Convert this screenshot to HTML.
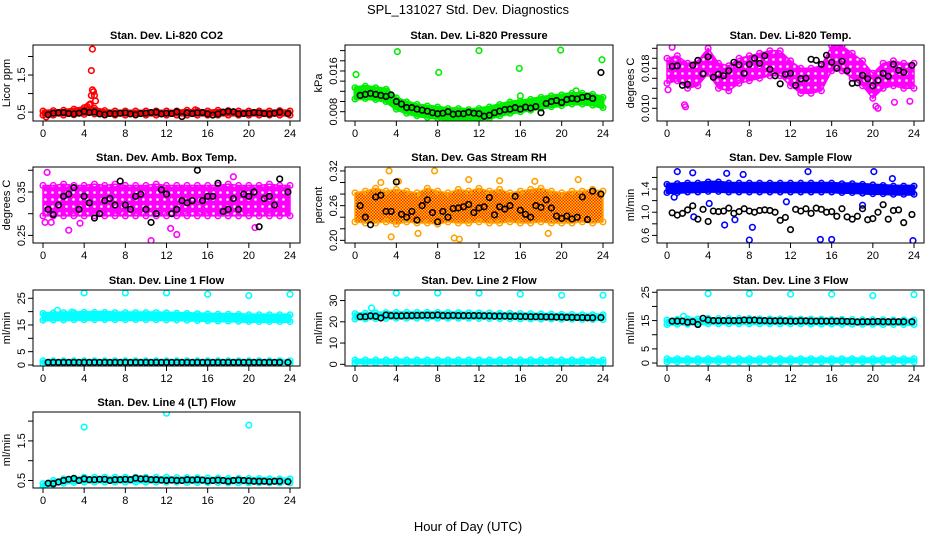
<!DOCTYPE html>
<html><head><meta charset="utf-8">
<style>
html,body{margin:0;padding:0;background:#fff;}
svg{display:block;font-family:"Liberation Sans",sans-serif;}
</style></head>
<body>
<svg id="chart" width="936" height="540" viewBox="0 0 936 540" xmlns="http://www.w3.org/2000/svg">
<defs>
<pattern id="rhpat" width="3" height="3" patternUnits="userSpaceOnUse">
<rect width="3" height="3" fill="#ffd000"/><rect width="1.5" height="1.5" fill="#ff2000"/><rect x="1.5" y="1.5" width="1.5" height="1.5" fill="#ff2000"/>
</pattern>
<pattern id="magpat" width="7" height="7" patternUnits="userSpaceOnUse">
<rect width="7" height="7" fill="#ff00ff"/><circle cx="3.5" cy="3.5" r="1.3" fill="#fff"/>
</pattern>
</defs>
<text x="468" y="14" font-size="13" text-anchor="middle">SPL_131027  Std. Dev. Diagnostics</text>
<text x="468" y="531" font-size="13" text-anchor="middle">Hour of Day (UTC)</text>
</svg>
<script>
// ---- shared data ----
const xTicks = [0,4,8,12,16,20,24];
const bandHours = [0,1,2,3,4,5,6,7,8,9,10,11,12,13,14,15,16,17,18,19,20,21,22,23,24];
const blackHours = [0.5,1,1.5,2,2.5,3,3.5,4,4.5,5,5.5,6,6.5,7,7.5,8,8.5,9,9.5,10,10.5,11,11.5,12,12.5,13,13.5,14,14.5,15,15.5,16,16.5,17,17.5,18,18.5,19,19.5,20,20.5,21,21.5,22,22.5,23,23.8];

// P1 CO2
const co2Lo = [0.42,0.42,0.42,0.43,0.44,0.45,0.42,0.42,0.42,0.42,0.42,0.42,0.42,0.42,0.42,0.42,0.42,0.42,0.42,0.42,0.42,0.42,0.42,0.42,0.42];
const co2Hi = [0.53,0.54,0.55,0.58,0.62,0.60,0.54,0.53,0.53,0.53,0.53,0.53,0.53,0.53,0.55,0.54,0.53,0.55,0.54,0.53,0.53,0.53,0.53,0.54,0.53];
const co2OutT = [4.8,4.7,4.8,4.9,4.7,5.0,5.1,4.5,4.3,4.6,14.8,0.3];
const co2OutV = [2.2,1.62,1.1,1.05,0.95,0.95,0.8,0.7,0.65,0.72,0.56,0.37];
const co2Black = [0.43,0.47,0.48,0.49,0.46,0.45,0.47,0.52,0.49,0.50,0.45,0.43,0.46,0.45,0.47,0.48,0.45,0.43,0.46,0.47,0.49,0.50,0.45,0.47,0.46,0.51,0.38,0.48,0.46,0.48,0.49,0.45,0.42,0.45,0.50,0.52,0.51,0.45,0.46,0.47,0.49,0.48,0.46,0.45,0.47,0.50,0.46];

// P2 Pressure
const presLo = [0.0105,0.0106,0.0104,0.0100,0.0085,0.0077,0.0072,0.0069,0.0067,0.0064,0.0064,0.0063,0.0065,0.0067,0.0072,0.0077,0.0080,0.0083,0.0087,0.0090,0.0092,0.0095,0.0095,0.0093,0.0088];
const presHi = [0.0127,0.0130,0.0127,0.0124,0.0107,0.0099,0.0094,0.0091,0.0089,0.0086,0.0086,0.0084,0.0086,0.0089,0.0094,0.0099,0.0101,0.0104,0.0108,0.0111,0.0113,0.0116,0.0116,0.0114,0.0108];
const presOutT = [0.1,4.1,8.1,12,15.9,19.9,23.9,21.4,16,3.1];
const presOutV = [0.0153,0.0198,0.0157,0.0200,0.0165,0.0201,0.0182,0.0121,0.0111,0.0120];
const presBlack = [0.0112,0.0114,0.0116,0.0114,0.0112,0.0110,0.0113,0.0100,0.0095,0.0088,0.0088,0.0085,0.0083,0.0081,0.0078,0.0076,0.0077,0.0080,0.0075,0.0076,0.0076,0.0079,0.0077,0.0076,0.0071,0.0073,0.0078,0.0081,0.0084,0.0085,0.0088,0.0085,0.0089,0.0087,0.0090,0.0078,0.0096,0.0100,0.0102,0.0098,0.0104,0.0106,0.0105,0.0108,0.0110,0.0106,0.0157];

// P3 Li-820 Temp
const tempLo = [0.0150,0.0155,0.0140,0.0145,0.0170,0.0140,0.0135,0.0150,0.0155,0.0160,0.0165,0.0165,0.0145,0.0130,0.0130,0.0135,0.0175,0.0175,0.0160,0.0145,0.0120,0.0140,0.0145,0.0140,0.0140];
const tempHi = [0.0200,0.0205,0.0190,0.0195,0.0220,0.0190,0.0185,0.0200,0.0205,0.0210,0.0215,0.0215,0.0195,0.0180,0.0180,0.0185,0.0225,0.0225,0.0210,0.0195,0.0170,0.0190,0.0195,0.0190,0.0190];
const tempOutT = [0.5,1.7,1.8,20.3,20.5,22.1,0.1,23.6];
const tempOutV = [0.0222,0.0107,0.0103,0.0104,0.0100,0.0112,0.0137,0.0114];
const tempBlack = [0.0184,0.0185,0.0146,0.0148,0.0186,0.0196,0.0169,0.0203,0.0162,0.0168,0.0165,0.0175,0.0192,0.0187,0.0170,0.0188,0.0200,0.0190,0.0205,0.0178,0.0165,0.0149,0.0168,0.0170,0.0146,0.0159,0.0160,0.0198,0.0196,0.0188,0.0206,0.0192,0.0180,0.0194,0.0175,0.0150,0.0151,0.0166,0.0159,0.0145,0.0156,0.0170,0.0164,0.0188,0.0176,0.0172,0.0186];

// P4 Amb Box Temp
const ambLo = [0.295,0.295,0.295,0.295,0.295,0.295,0.295,0.295,0.295,0.295,0.295,0.295,0.295,0.295,0.295,0.295,0.295,0.295,0.295,0.295,0.295,0.295,0.295,0.295,0.295];
const ambHi = [0.365,0.365,0.368,0.365,0.365,0.368,0.365,0.368,0.365,0.365,0.365,0.368,0.365,0.365,0.365,0.365,0.365,0.365,0.368,0.365,0.365,0.365,0.368,0.365,0.365];
const ambOutT = [0.4,0.8,2.5,10.5,12.4,13.0,20.6,3.6,18.5,0.2];
const ambOutV = [0.395,0.28,0.262,0.238,0.266,0.252,0.268,0.278,0.385,0.28];
const ambBlack = [0.310,0.298,0.320,0.340,0.345,0.360,0.310,0.340,0.325,0.290,0.300,0.330,0.335,0.320,0.375,0.320,0.310,0.340,0.345,0.310,0.280,0.300,0.355,0.345,0.300,0.310,0.330,0.325,0.330,0.400,0.330,0.340,0.340,0.370,0.305,0.310,0.335,0.310,0.345,0.340,0.350,0.270,0.335,0.340,0.320,0.380,0.350];

// P5 Gas Stream RH
const rhLo = [0.232,0.230,0.230,0.232,0.228,0.232,0.230,0.230,0.228,0.232,0.230,0.230,0.232,0.230,0.230,0.232,0.230,0.230,0.232,0.230,0.230,0.230,0.232,0.230,0.232];
const rhHi = [0.282,0.285,0.290,0.285,0.288,0.285,0.282,0.290,0.285,0.282,0.288,0.285,0.290,0.285,0.288,0.282,0.285,0.288,0.290,0.285,0.282,0.285,0.285,0.288,0.285];
const rhOutT = [3.3,7.7,3.5,11.0,9.6,10.1,4.2,17.4,18.7,21.6,14.0,6.1,2.5];
const rhOutV = [0.320,0.320,0.206,0.305,0.204,0.202,0.302,0.302,0.212,0.305,0.303,0.212,0.300];
const rhBlack = [0.260,0.240,0.227,0.275,0.278,0.250,0.250,0.301,0.245,0.240,0.250,0.235,0.260,0.270,0.248,0.232,0.250,0.240,0.255,0.256,0.258,0.262,0.248,0.256,0.258,0.274,0.244,0.258,0.254,0.260,0.276,0.252,0.245,0.240,0.260,0.257,0.270,0.256,0.242,0.238,0.242,0.237,0.240,0.275,0.236,0.285,0.280];

// P6 Sample Flow
const flowLo = [1.34,1.34,1.35,1.35,1.36,1.36,1.35,1.35,1.35,1.35,1.35,1.35,1.35,1.35,1.35,1.35,1.35,1.34,1.34,1.33,1.32,1.32,1.31,1.31,1.31];
const flowHi = [1.48,1.49,1.50,1.50,1.52,1.52,1.50,1.50,1.50,1.50,1.50,1.50,1.50,1.50,1.50,1.50,1.50,1.49,1.49,1.48,1.47,1.46,1.45,1.45,1.45];
const flowOutT = [1.0,2.5,5.8,7.4,8.0,8.3,13.7,14.9,16.0,20.1,23.9,0.7,4.1,5.6,2.6,6.6,19.0,11.6,21.9];
const flowOutV = [1.70,1.68,1.67,1.65,0.52,0.74,1.70,0.53,0.53,1.70,0.51,1.26,1.15,0.78,0.92,0.87,1.12,1.18,1.58];
const flowBlack = [0.99,0.95,0.98,1.04,1.11,0.88,1.05,0.84,1.02,1.01,1.02,1.07,0.98,1.01,1.06,1.02,1.00,1.03,1.04,1.03,1.00,0.86,0.91,0.70,1.05,1.02,1.06,0.98,1.07,1.05,1.00,1.01,0.93,1.06,0.92,0.88,0.93,1.06,0.87,0.89,1.00,1.13,0.88,1.03,1.04,0.82,0.96];

// P7 Line 1 Flow
const l1Lo = [16.8,16.9,16.9,17.0,17.0,17.0,17.0,17.0,17.0,17.0,17.0,17.0,16.9,16.9,16.8,16.7,16.6,16.5,16.5,16.4,16.3,16.3,16.3,16.3,16.3];
const l1Hi = [19.3,19.5,19.6,19.6,19.7,19.7,19.7,19.6,19.6,19.6,19.6,19.6,19.5,19.4,19.3,19.2,19.1,19.0,19.0,18.9,18.8,18.8,18.8,18.8,18.8];
const l1LowLo = [0.5,0.5,0.5,0.5,0.5,0.5,0.5,0.5,0.5,0.5,0.5,0.5,0.5,0.5,0.5,0.5,0.5,0.5,0.5,0.5,0.5,0.5,0.5,0.5,0.5];
const l1LowHi = [1.6,1.6,1.6,1.6,1.6,1.6,1.6,1.6,1.6,1.6,1.6,1.6,1.6,1.6,1.6,1.6,1.6,1.6,1.6,1.6,1.6,1.6,1.6,1.6,1.6];
const l1OutT = [4,8,12,16,20,24,1.4,2.8];
const l1OutV = [27,27,27,26.5,26,26.5,20.5,19.8];
const l1Black = [1.0,1.0,1.0,1.0,1.0,1.0,1.0,1.0,1.0,1.0,1.0,1.0,1.0,1.0,1.0,1.0,1.0,1.0,1.0,1.0,1.0,1.0,1.0,1.0,1.0,1.0,1.0,1.0,1.0,1.0,1.0,1.0,1.0,1.0,1.0,1.0,1.0,1.0,1.0,1.0,1.0,1.0,1.0,1.0,1.0,1.0,1.0];

// P8 Line 2 Flow
const l2Lo = [21.3,21.4,21.5,21.6,21.7,21.7,21.7,21.7,21.7,21.7,21.7,21.7,21.6,21.6,21.5,21.5,21.4,21.4,21.3,21.3,21.2,21.2,21.1,21.1,21.1];
const l2Hi = [23.8,24.0,24.2,24.3,24.4,24.4,24.4,24.4,24.4,24.3,24.3,24.2,24.2,24.1,24.0,24.0,23.9,23.8,23.7,23.6,23.5,23.4,23.3,23.3,23.3];
const l2LowLo = [0.6,0.6,0.6,0.6,0.6,0.6,0.6,0.6,0.6,0.6,0.6,0.6,0.6,0.6,0.6,0.6,0.6,0.6,0.6,0.6,0.6,0.6,0.6,0.6,0.6];
const l2LowHi = [2.0,2.0,2.0,2.0,2.0,2.0,2.0,2.0,2.0,2.0,2.0,2.0,2.0,2.0,2.0,2.0,2.0,2.0,2.0,2.0,2.0,2.0,2.0,2.0,2.0];
const l2OutT = [4,8,12,16,20,24,1.6];
const l2OutV = [33.5,33.5,33.5,33,32.5,32.5,26.5];
const l2Black = [22.4,22.4,22.8,22.6,21.8,23.2,22.9,22.8,22.8,22.9,22.9,23.0,23.0,23.1,23.0,23.2,22.9,22.9,23.0,22.9,22.9,22.9,22.9,22.9,22.8,22.8,22.7,22.7,22.7,22.6,22.6,22.5,22.5,22.4,22.4,22.4,22.3,22.3,22.2,22.2,22.1,22.1,22.0,22.0,21.9,21.9,22.0];

// P9 Line 3 Flow
const l3Lo = [13.6,13.7,13.8,13.8,13.9,13.9,13.9,13.9,13.9,13.9,13.9,13.9,13.9,13.9,13.8,13.8,13.8,13.7,13.7,13.7,13.7,13.6,13.6,13.6,13.6];
const l3Hi = [15.2,15.4,15.6,15.6,15.7,15.7,15.7,15.7,15.7,15.6,15.6,15.6,15.6,15.5,15.5,15.5,15.4,15.4,15.4,15.3,15.3,15.3,15.2,15.2,15.2];
const l3LowLo = [0.4,0.4,0.4,0.4,0.4,0.4,0.4,0.4,0.4,0.4,0.4,0.4,0.4,0.4,0.4,0.4,0.4,0.4,0.4,0.4,0.4,0.4,0.4,0.4,0.4];
const l3LowHi = [1.5,1.5,1.5,1.5,1.5,1.5,1.5,1.5,1.5,1.5,1.5,1.5,1.5,1.5,1.5,1.5,1.5,1.5,1.5,1.5,1.5,1.5,1.5,1.5,1.5];
const l3OutT = [4,8,12,16,20,24,1.6];
const l3OutV = [24.5,24.5,24.3,24.3,23.8,24.2,16.5];
const l3Black = [14.8,14.8,14.8,14.4,14.6,13.6,15.8,15.2,15.0,15.0,15.0,15.0,15.0,15.0,15.2,15.1,15.2,15.0,15.0,14.9,14.9,14.9,14.9,14.8,14.8,14.9,14.9,14.8,14.8,14.8,14.8,14.8,14.8,14.8,14.7,14.7,14.5,14.6,14.6,14.6,14.7,14.6,14.6,14.6,14.6,14.6,14.6];

// P10 Line 4 (LT) Flow
const l4Lo = [0.33,0.40,0.43,0.45,0.46,0.46,0.46,0.46,0.46,0.46,0.46,0.46,0.46,0.46,0.45,0.45,0.45,0.45,0.44,0.44,0.44,0.44,0.44,0.44,0.44];
const l4Hi = [0.42,0.50,0.54,0.56,0.58,0.58,0.58,0.58,0.58,0.58,0.58,0.58,0.58,0.57,0.57,0.57,0.56,0.56,0.55,0.55,0.55,0.55,0.54,0.54,0.54];
const l4OutT = [4,12,20];
const l4OutV = [1.85,2.2,1.9];
const l4Black = [0.43,0.42,0.46,0.50,0.53,0.55,0.50,0.54,0.52,0.52,0.53,0.53,0.50,0.52,0.52,0.53,0.52,0.56,0.54,0.54,0.52,0.52,0.51,0.50,0.51,0.50,0.50,0.52,0.51,0.52,0.51,0.49,0.50,0.51,0.50,0.48,0.50,0.51,0.50,0.49,0.48,0.48,0.48,0.47,0.48,0.48,0.47];

// y tick values & labels
const co2Ticks=[0.5,1,1.5,2], co2TickLabels=["0.5","","1.5",""];
const presTicks=[0.008,0.010,0.012,0.014,0.016,0.018,0.020], presTickLabels=["0.008","","","","0.016","",""];
const tempTicks=[0.010,0.012,0.014,0.016,0.018,0.020,0.022], tempTickLabels=["0.010","","","","0.018","",""];
const ambTicks=[0.25,0.30,0.35,0.40], ambTickLabels=["0.25","","0.35",""];
const rhTicks=[0.20,0.22,0.24,0.26,0.28,0.30,0.32], rhTickLabels=["0.20","","","0.26","","","0.32"];
const flowTicks=[0.6,0.8,1.0,1.2,1.4,1.6], flowTickLabels=["0.6","","1.0","","1.4",""];
const l1Ticks=[0,5,10,15,20,25], l1TickLabels=["0","5","","15","","25"];
const l2Ticks=[0,10,20,30], l2TickLabels=["0","10","20","30"];
const l3Ticks=[0,5,10,15,20,25], l3TickLabels=["0","5","","15","","25"];
const l4Ticks=[0.5,1,1.5,2], l4TickLabels=["0.5","","1.5",""];

// ---- layout (not data) ----
const colX0=[43,355,667], colX24=[290,603,914], rowTop=[45,167,290,412];
const panels=[
 {name:'co2',title:'Stan. Dev. Li-820 CO2',ylab:'Licor ppm',col:0,row:0,ylim:[0.26,2.31],color:'#ff0000',bands:[[co2Lo,co2Hi]],outT:co2OutT,outV:co2OutV,black:co2Black,ticks:co2Ticks,tl:co2TickLabels},
 {name:'pressure',title:'Stan. Dev. Li-820 Pressure',ylab:'kPa',col:1,row:0,ylim:[0.00617,0.0211],color:'#00ee00',bands:[[presLo,presHi]],outT:presOutT,outV:presOutV,black:presBlack,ticks:presTicks,tl:presTickLabels},
 {name:'li820-temp',title:'Stan. Dev. Li-820 Temp.',ylab:'degrees C',col:2,row:0,ylim:[0.00746,0.02266],color:'#ff00ff',fill:'url(#magpat)',sw:1.5,bands:[[tempLo,tempHi]],outT:tempOutT,outV:tempOutV,black:tempBlack,ticks:tempTicks,tl:tempTickLabels},
 {name:'amb-box-temp',title:'Stan. Dev. Amb. Box Temp.',ylab:'degrees C',col:0,row:1,ylim:[0.2325,0.4075],color:'#ff00ff',fill:'url(#magpat)',sw:1.5,bands:[[ambLo,ambHi]],outT:ambOutT,outV:ambOutV,black:ambBlack,ticks:ambTicks,tl:ambTickLabels},
 {name:'gas-stream-rh',title:'Stan. Dev. Gas Stream RH',ylab:'percent',col:1,row:1,ylim:[0.1954,0.3268],color:'#ffa000',fill:'url(#rhpat)',sw:1.5,bands:[[rhLo,rhHi]],outT:rhOutT,outV:rhOutV,black:rhBlack,ticks:rhTicks,tl:rhTickLabels},
 {name:'sample-flow',title:'Stan. Dev. Sample Flow',ylab:'ml/min',col:2,row:1,ylim:[0.469,1.78],color:'#0000ff',bands:[[flowLo,flowHi]],outT:flowOutT,outV:flowOutV,black:flowBlack,ticks:flowTicks,tl:flowTickLabels},
 {name:'line1-flow',title:'Stan. Dev. Line 1 Flow',ylab:'ml/min',col:0,row:2,ylim:[-0.37,28.1],color:'#00ffff',bands:[[l1Lo,l1Hi],[l1LowLo,l1LowHi]],outT:l1OutT,outV:l1OutV,black:l1Black,ticks:l1Ticks,tl:l1TickLabels},
 {name:'line2-flow',title:'Stan. Dev. Line 2 Flow',ylab:'ml/min',col:1,row:2,ylim:[-0.8,34.97],color:'#00ffff',bands:[[l2Lo,l2Hi],[l2LowLo,l2LowHi]],outT:l2OutT,outV:l2OutV,black:l2Black,ticks:l2Ticks,tl:l2TickLabels},
 {name:'line3-flow',title:'Stan. Dev. Line 3 Flow',ylab:'ml/min',col:2,row:2,ylim:[-1.05,25.8],color:'#00ffff',bands:[[l3Lo,l3Hi],[l3LowLo,l3LowHi]],outT:l3OutT,outV:l3OutV,black:l3Black,ticks:l3Ticks,tl:l3TickLabels},
 {name:'line4-flow',title:'Stan. Dev. Line 4 (LT) Flow',ylab:'ml/min',col:0,row:3,ylim:[0.31,2.23],color:'#00ffff',bands:[[l4Lo,l4Hi]],outT:l4OutT,outV:l4OutV,black:l4Black,ticks:l4Ticks,tl:l4TickLabels}
];

const NS='http://www.w3.org/2000/svg';
const svg=document.getElementById('chart');
function mk(tag,attrs,parent){const e=document.createElementNS(NS,tag);for(const k in attrs)e.setAttribute(k,attrs[k]);parent.appendChild(e);return e;}

panels.forEach(p=>{
  const x0=colX0[p.col], x24=colX24[p.col];
  const top=rowTop[p.row], H=76, bottom=top+H;
  const left=x0-10, right=x24+10;
  const xs=t=>x0+(t/24)*(x24-x0);
  const ys=v=>bottom-(v-p.ylim[0])/(p.ylim[1]-p.ylim[0])*H;
  const g=mk('g',{},svg);
  
  
  const clip=mk('clipPath',{id:'clip-'+p.name},g);
  mk('rect',{x:left,y:top,width:right-left,height:H},clip);
  const plot=mk('g',{'clip-path':'url(#clip-'+p.name+')'},g);
  
  
  p.bands.forEach((b,bi)=>{
    const lo=b[0], hi=b[1];
    let pts=bandHours.map((t,i)=>xs(t)+','+ys(hi[i]));
    pts=pts.concat(bandHours.slice().reverse().map((t,j)=>{const i=bandHours.length-1-j;return xs(t)+','+ys(lo[i]);}));
    const poly=mk('polygon',{points:pts.join(' '),fill:p.fill||p.color,stroke:p.color,'stroke-width':p.sw||3,'stroke-linejoin':'round'},plot);
    
    
    bandHours.forEach((t,i)=>{
      [lo[i],hi[i]].forEach(v=>{
        const c=mk('circle',{cx:xs(t),cy:ys(v),r:2.8,fill:'none',stroke:p.color,'stroke-width':1.5},plot);
        
        
      });
    });
  });
  p.outT.forEach((t,i)=>{
    const c=mk('circle',{cx:xs(t),cy:ys(p.outV[i]),r:2.8,fill:'none',stroke:p.color,'stroke-width':1.6},plot);
    
    
  });
  p.black.forEach((v,i)=>{
    const c=mk('circle',{cx:xs(blackHours[i]),cy:ys(v),r:2.8,fill:'none',stroke:'#000','stroke-width':1.6},plot);
    
    
  });
  const box=mk('rect',{x:left,y:top,width:right-left,height:H,fill:'none',stroke:'#000','stroke-width':1},g);
  
  
  const xa=mk('g',{},g);
  
  
  xTicks.forEach(t=>{
    mk('line',{x1:xs(t),x2:xs(t),y1:bottom,y2:bottom+5,stroke:'#000'},xa);
    const tx=mk('text',{x:xs(t),y:bottom+16,'font-size':11,'text-anchor':'middle'},xa);
    tx.textContent=t;
    
    
  });
  const ya=mk('g',{},g);
  
  
  p.ticks.forEach((v,i)=>{
    mk('line',{x1:left-5,x2:left,y1:ys(v),y2:ys(v),stroke:'#000'},ya);
    if(p.tl[i]){
      const tx=mk('text',{x:left-8,y:ys(v),'font-size':11,'text-anchor':'middle',transform:'rotate(-90 '+(left-8)+' '+ys(v)+')'},ya);
      tx.textContent=p.tl[i];
      
      
    }
  });
  const yl=mk('text',{x:left-23,y:top+H/2,'font-size':11,'text-anchor':'middle',transform:'rotate(-90 '+(left-23)+' '+(top+H/2)+')'},g);
  yl.textContent=p.ylab;
  
  
  const ti=mk('text',{x:(left+right)/2,y:top-6,'font-size':11,'font-weight':'bold','text-anchor':'middle'},g);
  ti.textContent=p.title;
  
  
});
</script>
</body></html>
